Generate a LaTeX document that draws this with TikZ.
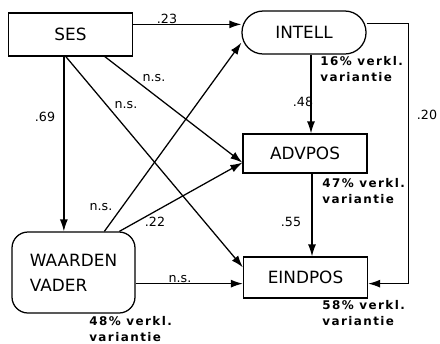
\documentclass[tikz,border=0pt]{standalone}
\usepackage{fontspec}
\setmainfont{DejaVu Sans}
\newfontfamily\explfont[LetterSpace=12]{DejaVu Sans}
\usetikzlibrary{arrows.meta,calc}

\begin{document}
\begin{tikzpicture}[x=0.25mm,y=-0.25mm,
		box/.style={draw,line width=0.9pt,minimum width=31mm,minimum height=10.75mm,inner sep=0pt,font=\fontsize{12}{18}\selectfont},
		arr/.style={line width=0.9pt,-{Latex[length=3mm,width=2mm]}},
		coef/.style={inner sep=0pt,font=\fontsize{9}{11}\selectfont},
		expl/.style={anchor=north west,inner sep=0pt,align=left,font=\explfont\bfseries\fontsize{8.5}{11.2}\selectfont}]
		\useasboundingbox (0,0) rectangle (440,343);

		% draw the boxes
		\node [box] (ses) at (70.5,34.5) {SES};
		\node [box,rounded corners=5.3mm] (intell) at (304,32.5) {INTELL};
		\node [box,minimum height=9.75mm] (advpos) at (305,153.5) {ADVPOS};
		\node [box,minimum height=10.25mm] (eindpos) at (305.5,277.5) {EINDPOS};
		\node [box,rounded corners=4mm,minimum width=30.75mm,minimum height=20.25mm,align=left] (vader) at (73.5,272.5) {WAARDEN\\VADER};

		% points where the arrows leave or reach the boxes
		\coordinate (sesA) at ($(ses.south west)+(56,0)$);
		\coordinate (sesB) at ($(ses.south west)+(58,0)$);
		\coordinate (sesC) at ($(ses.south west)+(97,0)$);
		\coordinate (vadA) at ($(vader.north west)+(93,0)$);
		\coordinate (vadB) at ($(vader.north west)+(108,0)$);
		\coordinate (intIn) at ($(intell.south west)+(0,-12)$);
		\coordinate (advIn) at ($(advpos.south west)+(0,-11)$);
		\coordinate (eindIn) at ($(eindpos.north west)+(0,11)$);
		\coordinate (eindL) at ($(eindpos.south west)+(0,-15)$);
		\coordinate (eindR) at ($(eindpos.south east)+(0,-15)$);
		\coordinate (intOut) at ($(intell.north east)+(0,13)$);
		\coordinate (intDown) at ($(intell.south)+(7,0)$);
		\coordinate (advDown) at ($(advpos.south)+(7,0)$);

		% draw the paths
		\draw [arr] ($(ses.north east)+(0,12)$) -- ($(intell.north west)+(0,14)$);
		\draw [arr] (sesA) -- (sesA |- vader.north);
		\draw [arr] (sesC) -- (advIn);
		\draw [arr] (sesB) -- (eindIn);
		\draw [arr] (vadA) -- (intIn);
		\draw [arr] (vadB) -- (advIn);
		\draw [arr] (vader.east |- eindL) -- (eindL);
		\draw [arr] (intDown) -- (intDown |- advpos.north);
		\draw [arr] (advDown) -- (advDown |- eindpos.north);
		\draw [arr] (intOut) -- ++(42,0) |- (eindR);

		% path coefficients
		\node [coef] (c23) at (167,19) {.23};
		\node [coef] (c69) at (45,117) {.69};
		\node [coef] (nsA) at (154,78) {n.s.};
		\node [coef] (nsB) at (126,105) {n.s.};
		\node [coef] (nsC) at (101,207) {n.s.};
		\node [coef] (c22) at (155,222) {.22};
		\node [coef] (nsD) at (180,279) {n.s.};
		\node [coef] (c48) at (303,102) {.48};
		\node [coef] (c55) at (291,222) {.55};
		\node [coef] (c20) at (427,115) {.20};

		% explained variance
		\node [expl] (v16) at (320,56) {16\% verkl.\\variantie};
		\node [expl] (v47) at (322,178) {47\% verkl.\\variantie};
		\node [expl] (v58) at (322,300) {58\% verkl.\\variantie};
		\node [expl] (v48) at (89,316) {48\% verkl.\\variantie};
\end{tikzpicture}
\end{document}
